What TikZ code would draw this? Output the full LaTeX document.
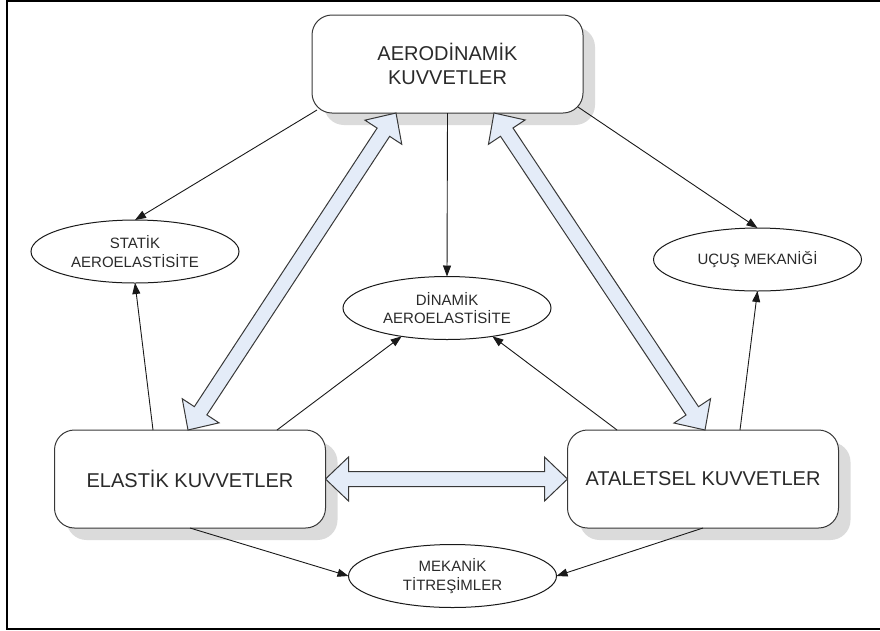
\documentclass[tikz,border=0pt]{standalone}
\usepackage{fontspec}
\setmainfont{Liberation Sans}
\usetikzlibrary{shapes.geometric,arrows.meta,calc,shadows}
\definecolor{blk}{HTML}{E4ECF8}
\definecolor{edge}{HTML}{383838}
\definecolor{txt}{HTML}{2A2A2A}
\tikzset{
 bigbox/.style={rectangle, rounded corners=20pt, draw=edge, line width=1pt, fill=white,
   minimum width=271pt, minimum height=98pt, align=center, text=txt, outer sep=0pt,
   font=\fontsize{20}{24}\selectfont,
   drop shadow={shadow xshift=12pt, shadow yshift=-12pt, fill=black!14, opacity=1}},
 oval/.style={ellipse, draw=black!90, line width=1pt, fill=white, minimum width=208pt,
   minimum height=63pt, inner sep=0pt, outer sep=0pt, align=center, text=txt,
   font=\fontsize{15}{18.5}\selectfont},
 conn/.style={draw=black!90, line width=0.9pt, -{Triangle[length=11pt,width=8pt]}},
 blockarrow/.style={draw=edge, line width=1pt, fill=blk, line join=miter}
}
\newcommand\dblarrow[2]{%
 \coordinate (ha) at ($(#1)!23pt!(#2)$);
 \coordinate (hb) at ($(#2)!23pt!(#1)$);
 \draw[blockarrow] (#1) -- ($(ha)!22pt!90:(#2)$) -- ($(ha)!7.5pt!90:(#2)$)
   -- ($(hb)!7.5pt!-90:(#1)$) -- ($(hb)!22pt!-90:(#1)$) -- (#2)
   -- ($(hb)!22pt!90:(#1)$) -- ($(hb)!7.5pt!90:(#1)$)
   -- ($(ha)!7.5pt!-90:(#2)$) -- ($(ha)!22pt!-90:(#2)$) -- cycle;}
\begin{document}
\begin{tikzpicture}[x=1pt,y=-1pt]
\useasboundingbox (0,0) rectangle (880,630);
\draw[line width=2pt] (7,1) rectangle (895,628.5);

% boxes
\node[bigbox] (aero) at (447.5,64) {AERODİNAMİK\\KUVVETLER};
\node[bigbox] (elastik) at (190,479) {ELASTİK KUVVETLER};
\node[bigbox] (atal) at (703,479) {ATALETSEL KUVVETLER};

% ellipses
\node[oval] (statik) at (135,251.5) {STATİK\\AEROELASTİSİTE};
\node[oval] (dinamik) at (447,308) {DİNAMİK\\AEROELASTİSİTE};
\node[oval] (ucus) at (757.5,259.5) {UÇUŞ MEKANİĞİ};
\node[oval] (mekanik) at (452.5,576) {MEKANİK\\TİTREŞİMLER};

% connector start points
\coordinate (a1) at ($(aero.south west)+(5,-3)$);
\coordinate (a2) at ($(aero.south east)+(-5,-6)$);
\coordinate (e1) at ($(elastik.north)+(-37,0)$);
\coordinate (e2) at ($(elastik.north)+(87,0)$);
\coordinate (t1) at ($(atal.north)+(-86,0)$);
\coordinate (t2) at ($(atal.north)+(37,0)$);

\draw[conn] (a1) -- (statik.north);
\draw[conn] (aero.south) -- (dinamik.north);
\draw[conn] (a2) -- (ucus.north);
\draw[conn] (e1) -- (statik.south);
\draw[conn] (e2) -- (dinamik.212);
\draw[conn] (t1) -- (dinamik.328);
\draw[conn] (t2) -- (ucus.south);
\draw[conn] (elastik.south) -- (mekanik.west);
\draw[conn] (atal.south) -- (mekanik.east);

% block arrows
\coordinate (aL) at ($(aero.south)+(-51.5,0)$);
\coordinate (aR) at ($(aero.south)+(46.5,0)$);
\coordinate (eT) at ($(elastik.north)+(-2,0)$);
\coordinate (tT) at ($(atal.north)+(2,0)$);
\dblarrow{aL}{eT}
\dblarrow{aR}{tT}
\dblarrow{elastik.east}{atal.west}
\end{tikzpicture}
\end{document}
